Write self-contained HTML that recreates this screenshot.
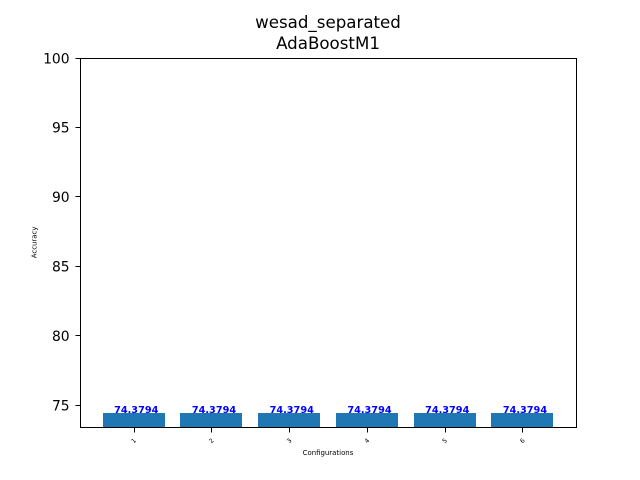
<!DOCTYPE html>
<html>
<head>
<meta charset="utf-8">
<style>
html,body{margin:0;padding:0;background:#fff;width:640px;height:480px;overflow:hidden}
svg{display:block;font-family:"DejaVu Sans",sans-serif}
</style>
</head>
<body>
<svg id="chart" width="640" height="480" viewBox="0 0 640 480" xmlns="http://www.w3.org/2000/svg">
<text x="328" y="28" font-size="16.67" text-anchor="middle" fill="#000">wesad_separated</text>
<text x="328" y="49" font-size="16.67" text-anchor="middle" fill="#000">AdaBoostM1</text>
<text transform="translate(36.5,242.4) rotate(-90)" font-size="6.94" text-anchor="middle" fill="#000">Accuracy</text>
<text x="328" y="455" font-size="6.94" text-anchor="middle" fill="#000">Configurations</text>
<g id="bars"></g>
<g id="ticks"></g>
<rect x="80.5" y="58.5" width="496" height="369" fill="none" stroke="#000" stroke-width="1" shape-rendering="crispEdges"></rect>
<g id="labels"></g>
</svg>
<script>
const categories = ['1', '2', '3', '4', '5', '6'];
const accuracyValues = [74.3794, 74.3794, 74.3794, 74.3794, 74.3794, 74.3794];
const accuracyLabels = ['74.3794', '74.3794', '74.3794', '74.3794', '74.3794', '74.3794'];
const yTickValues = [75, 80, 85, 90, 95, 100];

const NS = 'http://www.w3.org/2000/svg';
const plot = {left: 80, right: 576, top: 57.6, bottom: 427.2};
const yMin = 73.37, yMax = 100;
const xPad = 0.69, barWidth = 0.8;
function xScale(i) {
  return plot.left + (i + xPad) / (categories.length - 1 + 2 * xPad) * (plot.right - plot.left);
}
function yScale(v) {
  return plot.bottom - (v - yMin) / (yMax - yMin) * (plot.bottom - plot.top);
}
function snap(p) {
  return Math.round(p) + 0.5;
}
function make(tag, attrs, parent) {
  const el = document.createElementNS(NS, tag);
  for (const k in attrs) el.setAttribute(k, attrs[k]);
  parent.appendChild(el);
  return el;
}
const barsG = document.getElementById('bars');
const ticksG = document.getElementById('ticks');
const labelsG = document.getElementById('labels');
const unit = xScale(1) - xScale(0);

categories.forEach(function (cat, i) {
  const cx = xScale(i);
  const top = Math.round(yScale(accuracyValues[i]));
  const bottom = Math.round(plot.bottom);
  const x0 = Math.round(cx - barWidth * unit / 2);
  const x1 = Math.round(cx + barWidth * unit / 2);
  const bar = make('rect', {x: x0, y: top, width: x1 - x0, height: bottom - top, fill: '#1f77b4', 'shape-rendering': 'crispEdges'}, barsG);
  
  

  const label = make('text', {x: cx + 2.6, y: top, 'font-size': 9.72, 'font-weight': 'bold', 'text-anchor': 'middle', fill: '#0000ff'}, labelsG);
  label.textContent = accuracyLabels[i];
  
  

  const tx = snap(cx);
  const tick = make('line', {x1: tx, x2: tx, y1: 427.5, y2: 432.5, stroke: '#000', 'stroke-width': 1, 'shape-rendering': 'crispEdges'}, ticksG);
  
  

  const tickLabel = make('text', {transform: 'translate(' + (cx + 1.5) + ',' + (plot.bottom + 15) + ') rotate(-45)', 'font-size': 6.2, 'text-anchor': 'middle', fill: '#000'}, ticksG);
  tickLabel.textContent = cat;
  
  
});

yTickValues.forEach(function (v) {
  const y = yScale(v);
  const ty = snap(y);
  const tick = make('line', {x1: 75.5, x2: 80.5, y1: ty, y2: ty, stroke: '#000', 'stroke-width': 1, 'shape-rendering': 'crispEdges'}, ticksG);
  
  

  const tickLabel = make('text', {x: plot.left - 10.4, y: y + 5.7, 'font-size': 13.89, 'text-anchor': 'end', fill: '#000'}, ticksG);
  tickLabel.textContent = String(v);
  
  
});
</script>
</body>
</html>
